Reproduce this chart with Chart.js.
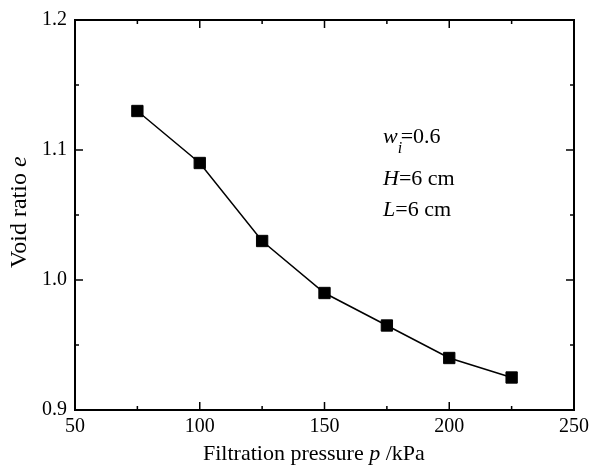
<!DOCTYPE html>
<html>
<head>
<meta charset="utf-8">
<script src="https://cdn.jsdelivr.net/npm/chart.js@4/dist/chart.umd.min.js"></script>
<style>
  html, body { margin: 0; padding: 0; background: #fff; }
  #wrap { width: 594px; height: 468px; }
</style>
</head>
<body>
<div id="wrap"><canvas id="chart" width="594" height="468"></canvas></div>
<script>
// data
const pressure  = [75, 100, 125, 150, 175, 200, 225];
const voidRatio = [1.13, 1.09, 1.03, 0.99, 0.965, 0.94, 0.925];
const xTicks = [50, 100, 150, 200, 250];
const yTicks = [0.9, 1.0, 1.1, 1.2];

const SERIF = "'Liberation Serif', 'DejaVu Serif', serif";

// draw a row of [text, style] pieces starting at x
function drawParts(ctx, parts, x, y, size) {
  parts.forEach(([t, s]) => {
    ctx.font = s + size + "px " + SERIF;
    ctx.fillText(t, x, y);
    x += ctx.measureText(t).width;
  });
  return x;
}

// frame, inward ticks, axis titles and the note
const framePlugin = {
  id: "frame",
  afterDraw(chart) {
    const { ctx, chartArea: a, scales: { x, y } } = chart;
    ctx.save();
    ctx.strokeStyle = "#000";
    ctx.lineWidth = 2;
    ctx.strokeRect(a.left, a.top, a.right - a.left, a.bottom - a.top);

    ctx.lineWidth = 1.5;
    ctx.beginPath();
    for (let v = 50; v <= 250; v += 25) {
      const px = x.getPixelForValue(v);
      const len = v % 50 === 0 ? 8 : 4;
      ctx.moveTo(px, a.bottom); ctx.lineTo(px, a.bottom - len);
      ctx.moveTo(px, a.top);    ctx.lineTo(px, a.top + len);
    }
    for (let i = 0; i <= 6; i++) {
      const py = y.getPixelForValue(0.9 + i * 0.05);
      const len = i % 2 === 0 ? 8 : 4;
      ctx.moveTo(a.left, py);  ctx.lineTo(a.left + len, py);
      ctx.moveTo(a.right, py); ctx.lineTo(a.right - len, py);
    }
    ctx.stroke();

    ctx.fillStyle = "#000";
    ctx.textBaseline = "alphabetic";

    // x title
    drawParts(ctx, [["Filtration pressure ", ""], ["p", "italic "], [" /kPa", ""]], 203, 460, 22);

    // y title
    ctx.save();
    ctx.translate(26, 268);
    ctx.rotate(-Math.PI / 2);
    drawParts(ctx, [["Void ratio ", ""], ["e", "italic "]], 0, 0, 24);
    ctx.restore();

    // note
    const nx = 383;
    ctx.font = "italic 22px " + SERIF;
    ctx.fillText("w", nx, 143);
    const ww = ctx.measureText("w").width;
    ctx.font = "italic 16px " + SERIF;
    ctx.fillText("i", nx + ww, 153);
    ctx.font = "22px " + SERIF;
    ctx.fillText("=0.6", nx + ww + 3, 143);

    drawParts(ctx, [["H", "italic "], ["=6 cm", ""]], nx, 185, 22);
    drawParts(ctx, [["L", "italic "], ["=6 cm", ""]], nx, 216, 22);

    ctx.restore();
  }
};

new Chart(document.getElementById("chart"), {
  type: "line",
  data: {
    datasets: [{
      data: pressure.map((p, i) => ({ x: p, y: voidRatio[i] })),
      borderColor: "#000",
      borderWidth: 1.5,
      backgroundColor: "#000",
      pointStyle: "rect",
      pointRadius: 8,
      pointBorderWidth: 1,
      tension: 0
    }]
  },
  options: {
    responsive: false,
    animation: false,
    layout: { padding: { top: 20, right: 18, left: 0, bottom: 0 } },
    plugins: { legend: { display: false }, tooltip: { enabled: false } },
    scales: {
      x: {
        type: "linear", min: 50, max: 250,
        afterBuildTicks: s => { s.ticks = xTicks.map(v => ({ value: v })); },
        afterFit: s => { s.height = 58; },
        grid: { display: false, drawTicks: false },
        border: { display: false },
        ticks: { color: "#000", padding: 5, font: { family: SERIF, size: 20 } }
      },
      y: {
        type: "linear", min: 0.9, max: 1.2,
        afterBuildTicks: s => { s.ticks = yTicks.map(v => ({ value: v })); },
        afterFit: s => { s.width = 75; },
        grid: { display: false, drawTicks: false },
        border: { display: false },
        ticks: { color: "#000", padding: 8, font: { family: SERIF, size: 20 },
                 callback: v => v.toFixed(1) }
      }
    }
  },
  plugins: [framePlugin]
});
</script>
</body>
</html>
